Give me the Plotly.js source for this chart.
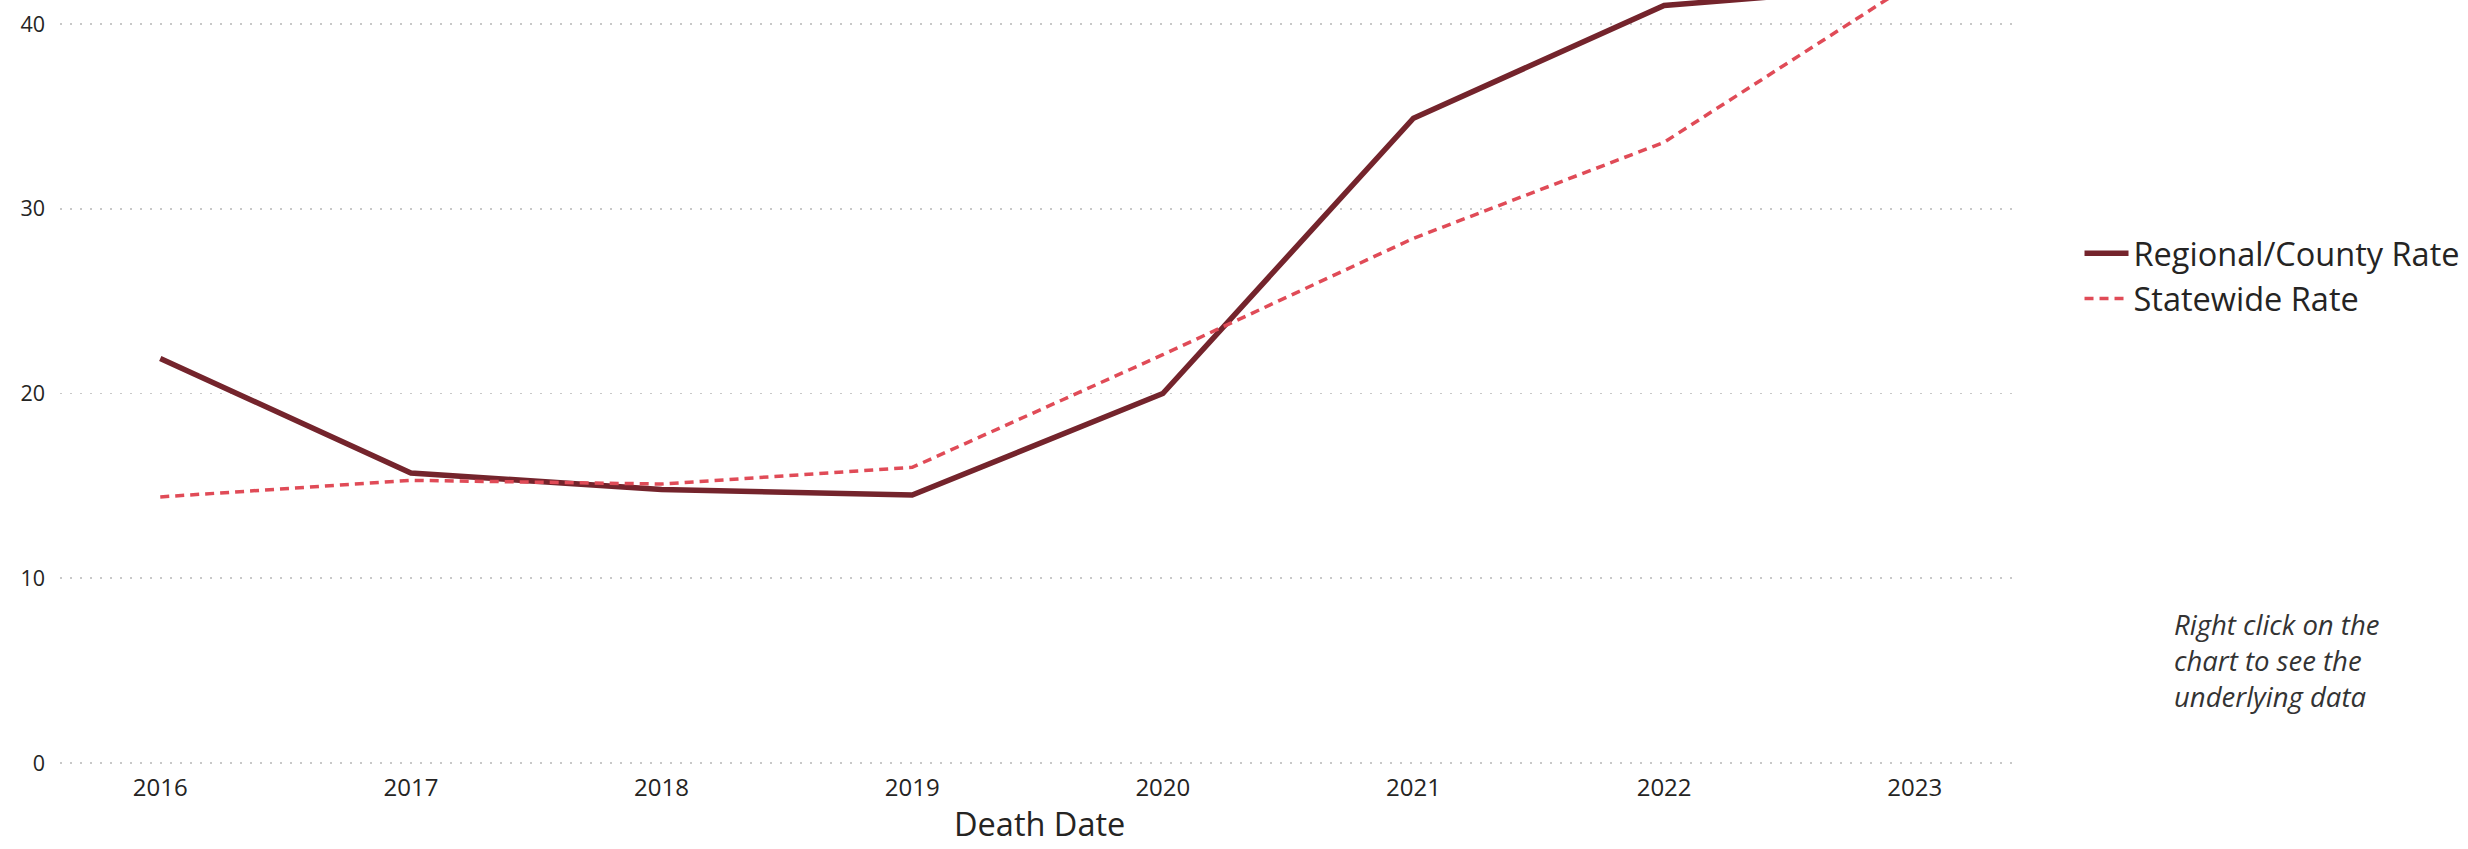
<!DOCTYPE html>
<html>
<head>
<meta charset="utf-8">
<script src="https://cdn.plot.ly/plotly-3.0.1.min.js"></script>
<style>html,body{margin:0;padding:0;background:#fff;}#chart{width:2468px;height:849px;}</style>
</head>
<body>
<div id="chart"></div>
<script>
const years = ["2016", "2017", "2018", "2019", "2020", "2021", "2022", "2023"];
const regionalRate = [21.9, 15.7, 14.8, 14.5, 20.0, 34.9, 41.0, 42.1];
const statewideRate = [14.4, 15.3, 15.1, 16.0, 22.1, 28.4, 33.6, 42.3];
const seriesNames = ["Regional/County Rate", "Statewide Rate"];
const yTicks = [0, 10, 20, 30, 40];
const noteText = "Right click on the<br>chart to see the<br>underlying data";
const xTitle = "Death Date";

const FONT = "'Segoe UI', 'Open Sans', sans-serif";

const traces = [
  {
    x: years, y: regionalRate, name: seriesNames[0], type: "scatter", mode: "lines",
    line: {color: "#74242C", width: 5.5}
  },
  {
    x: years, y: statewideRate, name: seriesNames[1], type: "scatter", mode: "lines",
    line: {color: "#E04B57", width: 3.5, dash: "9px,6px"}
  }
];

const layout = {
  width: 2468, height: 849,
  margin: {l: 60, r: 453, t: 0, b: 79, pad: 0},
  paper_bgcolor: "#fff", plot_bgcolor: "#fff",
  font: {family: FONT, color: "#252423"},
  showlegend: true,
  legend: {
    x: 1.033, y: 0.707, xanchor: "left", yanchor: "top",
    font: {family: FONT, size: 32.5, color: "#252423"},
    tracegroupgap: 0, itemwidth: 44, bgcolor: "rgba(0,0,0,0)"
  },
  xaxis: {
    type: "category", range: [-0.4, 7.4],
    showgrid: false, zeroline: false, showline: false, ticks: "",
    tickfont: {family: FONT, size: 24, color: "#252423"},
    ticklabelstandoff: 1
  },
  yaxis: {
    range: [-0.38, 41.3], tickvals: yTicks, ticktext: yTicks.map(String),
    showgrid: true, gridcolor: "#C8C8C8", gridwidth: 1.5, griddash: "2px,8px",
    zeroline: false, showline: false, ticks: "",
    tickfont: {family: FONT, size: 21.5, color: "#252423"},
    ticklabelstandoff: 14
  },
  annotations: [
    {
      xref: "paper", yref: "paper", x: 1.0802, y: 0.142,
      xanchor: "left", yanchor: "middle", align: "left", showarrow: false,
      text: noteText,
      font: {family: FONT, size: 27.5, color: "#333333", style: "italic"}
    },
    {
      xref: "paper", yref: "paper", x: 0.501, y: -0.1,
      xanchor: "center", yanchor: "bottom", showarrow: false, borderpad: 0,
      text: xTitle,
      font: {family: FONT, size: 32.5, color: "#252423"}
    }
  ]
};

Plotly.newPlot("chart", traces, layout, {displayModeBar: false, staticPlot: true});
</script>
</body>
</html>
